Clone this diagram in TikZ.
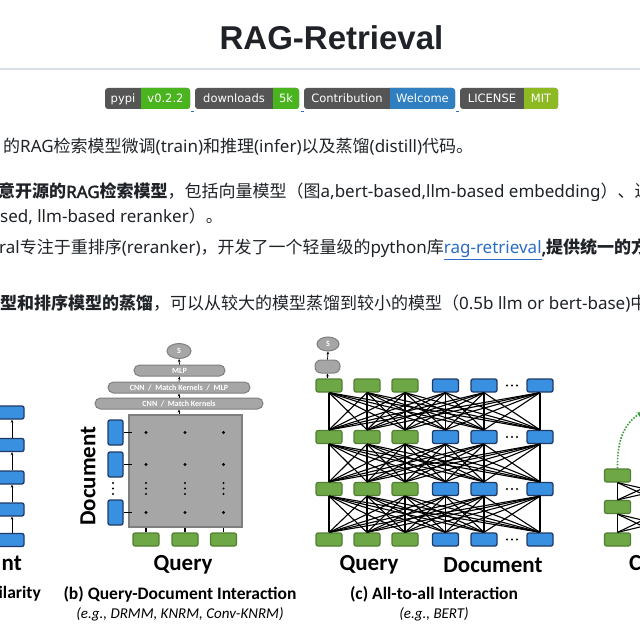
\documentclass[tikz,border=0pt]{standalone}
\usepackage{fontspec}
\setmainfont{Noto Sans}[AutoFakeBold=2.2]
\newfontfamily\zhf{Noto Sans CJK SC}
\newfontfamily\carl{Carlito}
\newfontfamily\badgef{DejaVu Sans}
\newfontfamily\titlef{Liberation Sans}
\newcommand\zh[1]{{\zhf #1}}
\usetikzlibrary{arrows.meta,shapes.geometric}
\definecolor{ink}{HTML}{1F2328}
\definecolor{rulec}{HTML}{D8DEE4}
\definecolor{bgray}{HTML}{555555}
\definecolor{bgreen}{HTML}{4AB41E}
\definecolor{bblue}{HTML}{2F7FC1}
\definecolor{bygreen}{HTML}{8DBA22}
\definecolor{linkc}{HTML}{2B6CC4}
\definecolor{boxblue}{HTML}{3A90E0}
\definecolor{boxblueline}{HTML}{1F3A66}
\definecolor{boxgreen}{HTML}{6EA846}
\definecolor{boxgreenline}{HTML}{527F33}
\definecolor{gfill}{HTML}{A6A6A6}
\definecolor{gline}{HTML}{7F7F7F}
\definecolor{dotgreen}{HTML}{3E9B3A}
\newcommand\mybadge[7]{%
  \fill[bgray, rounded corners=3pt] (#2,88) rectangle (#4,109);
  \begin{scope}
    \clip (#3,80) rectangle ({#4+1},115);
    \fill[#7, rounded corners=3pt] (#2,88) rectangle (#4,109);
  \end{scope}
  \node[badgetxt] (#1l) at ({(#2+#3)/2},102.7) {#5};
  \node[badgetxt] (#1v) at ({(#3+#4)/2},102.7) {#6};
}
\begin{document}
\begin{tikzpicture}[x=1pt,y=-1pt,
  badgetxt/.style={anchor=base, inner sep=0, text=white, font=\badgef\fontsize{11.5}{13}\selectfont},
  txt/.style={anchor=base west, inner sep=0, text=ink, font=\fontsize{17}{20}\selectfont},
  blk/.style={draw=boxblueline, fill=boxblue, line width=1.3pt, rounded corners=2pt, minimum width=26pt, minimum height=13pt, inner sep=0},
  grn/.style={draw=boxgreenline, fill=boxgreen, line width=1.2pt, rounded corners=2pt, minimum width=26pt, minimum height=13pt, inner sep=0},
  pill/.style={draw=gline, fill=gfill, line width=1pt, rounded corners=5.5pt, inner sep=0, text=white, font=\carl\bfseries\fontsize{8}{8}\selectfont},
  arr/.style={-{Stealth[length=3pt,width=2.6pt]}, line width=0.7pt},
  wire/.style={line width=1.1pt, black},
  lab/.style={font=\carl\bfseries\fontsize{23}{26}\selectfont, text=black, inner sep=0},
  captxt/.style={font=\carl\bfseries\fontsize{17.5}{20}\selectfont, text=black, inner sep=0},
  egtxt/.style={font=\carl\itshape\fontsize{15}{18}\selectfont, text=black, inner sep=0}]
\useasboundingbox (0,0) rectangle (640,639);
\clip (0,0) rectangle (640,639);
\fill[white] (0,0) rectangle (640,639);

% ---- header ----
\node[anchor=base, inner sep=0, text=ink, font=\titlef\bfseries\fontsize{33}{36}\selectfont] (title) at (331.5,50) {RAG-Retrieval};
\draw[rulec, line width=1.2pt] (0,69) -- (640,69);

\mybadge{pypi}{105}{141}{190}{pypi}{v0.2.2}{bgreen}
\mybadge{dl}{195}{273}{299}{downloads}{5k}{bgreen}
\mybadge{con}{304}{390}{455}{Contribution}{Welcome}{bblue}
\mybadge{lic}{460}{524}{558}{LICENSE}{MIT}{bygreen}
\draw[linkc, line width=1pt] (190.5,112) -- (193.5,112);
\draw[linkc, line width=1pt] (300.5,112) -- (303.5,112);
\draw[linkc, line width=1pt] (455.5,112) -- (458.5,112);

% ---- text lines ----
\node[txt] (l1) at (3,153) {\zh{的}RAG\zh{检索模型微调}(train)\zh{和推理}(infer)\zh{以及蒸馏}(distill)\zh{代码。}};
\node[txt] (l2) at (-2,198) {\textbf{\zh{意开源的}RAG\zh{检索模型}}\zh{，包括向量模型（图}a,bert-based,llm-based embedding\zh{）、迟}};
\node[txt] (l3) at (0,223) {sed, llm-based reranker\zh{）。}};
\node[txt] (l4) at (-1,254) {ral\zh{专注于重排序}(reranker)\zh{，开发了一个轻量级的}python\zh{库}\textcolor{linkc}{\underline{rag-retrieval}}\textbf{,\zh{提供统一的方}}};
\node[txt] (l5) at (0,309) {\textbf{\zh{型和排序模型的蒸馏}}\zh{，可以从较大的模型蒸馏到较小的模型（}0.5b llm or bert-base)\zh{中}};

% ---- panel (a), partial ----
\foreach \i/\y in {1/412.5,2/445,3/477.5,4/509.5,5/540}
  \node[blk, minimum width=34pt] (a\i) at (7,\y) {};
\foreach \i/\j in {2/1,3/2,4/3,5/4}
  \draw[arr] ([xshift=5pt]a\i.north) -- ([xshift=5pt]a\j.south);
\node[lab, anchor=east] (alab) at (22,563) {nt};
\node[captxt, anchor=east] (acap) at (41,594) {ilarity};

% ---- panel (b) ----
\node[pill, ellipse, minimum width=24pt, minimum height=15pt] (bS) at (179,351) {S};
\node[pill, minimum width=91pt, minimum height=11pt] (bM) at (179.5,370.5) {MLP};
\node[pill, minimum width=142pt, minimum height=11pt] (bC2) at (179,387.5) {CNN~~/~~Match Kernels~~/~~MLP};
\node[pill, minimum width=168pt, minimum height=11pt] (bC1) at (179,403.5) {CNN~~/~~Match Kernels};
\node[draw=gline, fill=gfill, line width=1.3pt, minimum width=113pt, minimum height=112pt, inner sep=0] (bsq) at (185.5,471) {};
\draw[arr] (bM.north) -- (bS.south);
\draw[arr] (bC2.north) -- (bM.south);
\draw[arr] (bC1.north) -- (bC2.south);
\draw[arr] (bC1.south |- bsq.north) -- (bC1.south);

\foreach \i/\y in {1/432.5,2/464.5,3/512.5}
  \node[blk, minimum width=15pt, minimum height=25pt] (bd\i) at (115.5,\y) {};
\foreach \i/\x in {1/146,2/185,3/223.5}
  \node[grn] (bq\i) at (\x,539.5) {};
\foreach \i in {1,2,3} {
  \draw[wire] (bd\i.east) -- ([xshift=4pt]bd\i.east -| bsq.west);
  \draw[wire] (bq\i.north) -- (bq\i.north |- bsq.south);
  \foreach \j in {1,2,3}
    \fill (bq\i |- bd\j) circle (1.7pt);
  \foreach \y in {483,488.5,494}
    \fill (bq\i.center |- 0,\y) circle (1.1pt);
}
\foreach \y in {483,488.5,494}
  \fill (113,\y) circle (1.1pt);
\node[lab, rotate=90] (bdoc) at (88,476) {Document};
\node[lab] (bqry) at (183,565) {Query};
\node[captxt] (bcap) at (180,594) {(b) Query-Document Interaction};
\node[egtxt] (beg) at (180,614) {(e.g., DRMM, KNRM, Conv-KNRM)};

% ---- panel (c) ----
\foreach \r/\y in {1/385.5,2/437,3/489,4/539.5} {
  \foreach \c/\x in {1/329,2/367,3/405}
    \node[grn] (c\r\c) at (\x,\y) {};
  \foreach \c/\x in {4/445.5,5/484,6/540}
    \node[blk] (c\r\c) at (\x,\y) {};
  \foreach \x in {507,512,517}
    \fill (\x,\y) circle (1.1pt);
}
\foreach \r/\n in {1/2,2/3,3/4}
  \foreach \a in {1,...,6}
    \foreach \b in {1,...,6}
      \draw[wire] (c\r\a.south) -- (c\n\b.north);
\node[pill, ellipse, minimum width=22pt, minimum height=14pt] (cS) at (328,344) {S};
\node[pill, minimum width=25pt, minimum height=13pt, rounded corners=6pt] (cP) at (327.5,366.5) {};
\draw[arr] (cP.south |- c11.north) -- (cP.south);
\draw[arr] (cP.north) -- (cS.south);
\node[lab] (cqry) at (369,565) {Query};
\node[lab] (cdoc) at (493,565) {Document};
\node[captxt] (ccap) at (434,594) {(c) All-to-all Interaction};
\node[egtxt] (ceg) at (434,614) {(e.g., BERT)};

% ---- panel (d), partial ----
\foreach \r/\y in {1/475.5,2/507,3/539.5}
  \foreach \c/\x in {1/617.5,2/655.5,3/693.5}
    \node[grn] (d\r\c) at (\x,\y) {};
\foreach \r/\n in {1/2,2/3}
  \foreach \a in {1,2,3}
    \foreach \b in {1,2,3}
      \draw[wire] (d\r\a.south) -- (d\n\b.north);
\coordinate (dtip) at (642,412);
\draw[dotgreen, line width=1.6pt, dash pattern=on 1.6pt off 1.4pt, -{Stealth[length=5pt,width=5pt]}] (d11.north) .. controls (617,440) and (624,424) .. (dtip);
\node[lab, anchor=west] (dlab) at (629,563) {C};
\end{tikzpicture}
\end{document}
